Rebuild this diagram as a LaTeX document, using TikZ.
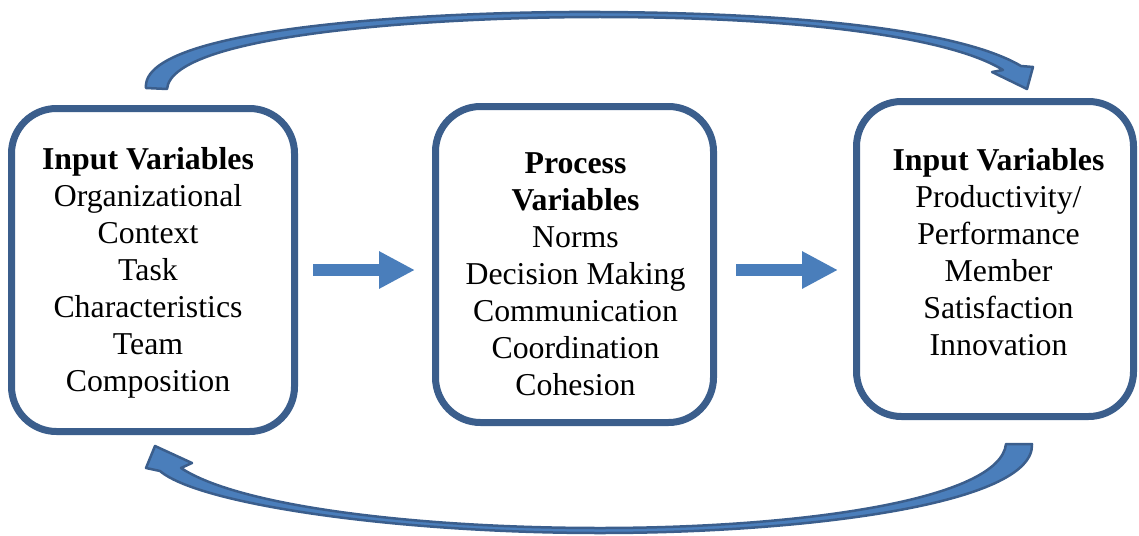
\documentclass[tikz,border=0pt]{standalone}
\usepackage{fontspec}
\setmainfont{Liberation Serif}
\usetikzlibrary{arrows.meta}
\definecolor{boxblue}{RGB}{59,94,140}
\definecolor{arrowblue}{RGB}{74,126,187}
\newcommand{\boxfont}{\fontsize{31.8}{37}\selectfont}

\begin{document}
\begin{tikzpicture}[x=1pt,y=-1pt,
  varbox/.style={draw=boxblue, line width=7pt, rounded corners=45pt, fill=white},
  vartext/.style={align=center, font=\boxfont, inner sep=0pt},
  flowarrow/.style={draw=arrowblue, line width=12pt, -{Triangle[length=36pt,width=35pt]}},
  loopband/.style={draw=boxblue, fill=arrowblue, line width=2.5pt, line join=round}]
  \useasboundingbox (0,0) rectangle (1139,535);

  % Input box
  \node[varbox, minimum width=283pt, minimum height=323pt] (inA) at (153,270) {};
  \node[vartext] (inAtext) at (148,272.5) {\textbf{Input Variables}\\Organizational\\Context\\Task\\Characteristics\\Team\\Composition};

  % Process box
  \node[varbox, minimum width=278pt, minimum height=316pt] (proc) at (574.5,264.5) {};
  \node[vartext] (proctext) at (575.5,274.5) {\textbf{Process}\\\textbf{Variables}\\Norms\\Decision Making\\Communication\\Coordination\\Cohesion};

  % Output box
  \node[varbox, minimum width=277pt, minimum height=315pt] (out) at (995,259) {};
  \node[vartext] (outtext) at (998.5,252.5) {\textbf{Input Variables}\\Productivity/\\Performance\\Member\\Satisfaction\\Innovation};

  % Straight arrows
  \draw[flowarrow] ([xshift=15pt]inA.east) -- ([xshift=-17pt]inA.east -| proc.west);
  \draw[flowarrow] ([xshift=19pt]proc.east |- inA.east) -- ([xshift=-15pt]out.west |- inA.east);

  % Feedback arrow on top
  \filldraw[loopband] (146,88) .. controls (140,25) and (450,11) .. (600,12)
    .. controls (800,13) and (960,30) .. (1021,66)
    -- (1033,67) -- (1027,89) -- (992,72) -- (1003,70)
    .. controls (950,37) and (800,17) .. (600,17)
    .. controls (440,17) and (172,33) .. (167,89) -- cycle;

  % Feedback arrow at the bottom
  \filldraw[loopband] (1032,444) .. controls (1035,505) and (800,533) .. (600,533)
    .. controls (400,533) and (200,505) .. (160,471)
    -- (146,468) -- (155,446) -- (192,463) -- (181,468)
    .. controls (240,507) and (420,528) .. (600,528)
    .. controls (800,528) and (1000,500) .. (1006,444) -- cycle;
\end{tikzpicture}
\end{document}
